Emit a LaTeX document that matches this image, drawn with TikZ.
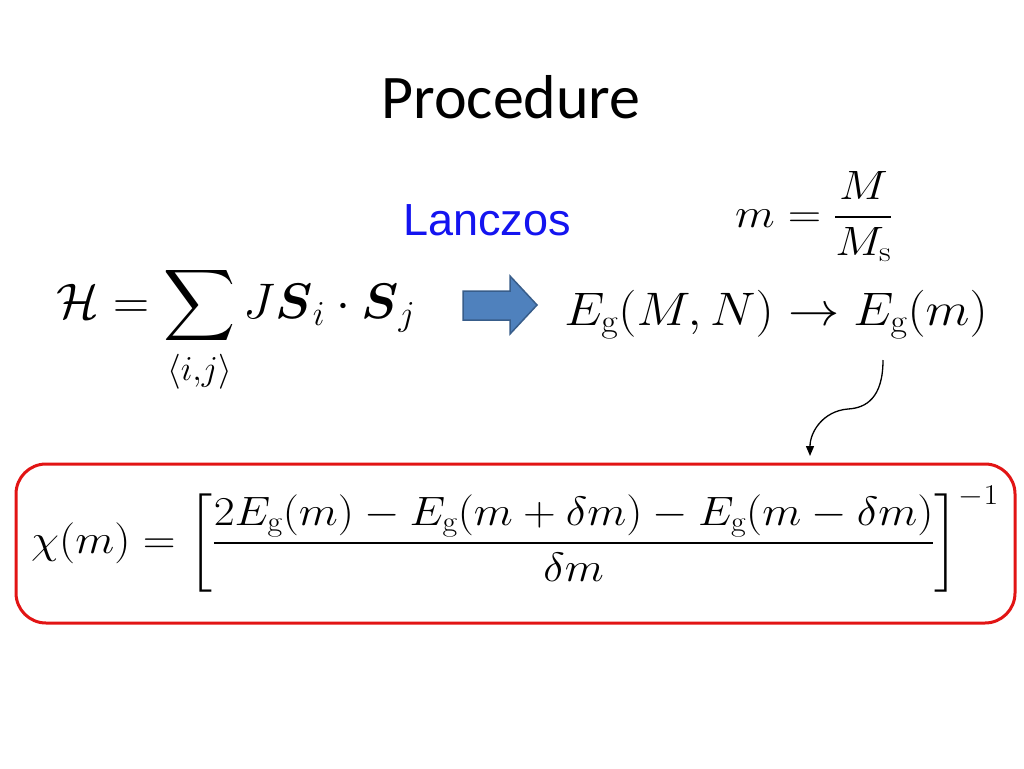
\RequirePackage{fix-cm}
\documentclass[tikz,border=0pt]{standalone}
\usepackage{amsmath}
\usepackage{fontspec}
\DeclareFontShape{OMX}{cmex}{m}{n}{<-> cmex10}{}
\newfontfamily\titlefont{Carlito}
\newfontfamily\arialfont{Liberation Sans}
\usetikzlibrary{arrows.meta}
\definecolor{boxred}{RGB}{226,20,20}
\definecolor{arrowfill}{RGB}{79,129,189}
\definecolor{arrowdraw}{RGB}{56,93,138}
\definecolor{lanczosblue}{RGB}{20,20,240}
\tikzset{
  titlestyle/.style={anchor=base, inner sep=0pt, font=\titlefont\fontsize{62}{70}\selectfont},
  labelstyle/.style={anchor=base, inner sep=0pt, text=lanczosblue, font=\arialfont\fontsize{45}{52}\selectfont},
  hammath/.style={anchor=base, inner sep=0pt, font=\fontsize{50}{60}\selectfont},
  bigmath/.style={anchor=base, inner sep=0pt, font=\fontsize{47}{56}\selectfont},
  midmath/.style={anchor=base, inner sep=0pt, font=\fontsize{41}{50}\selectfont},
  resultbox/.style={draw=boxred, line width=3pt, rounded corners=30pt},
  blockarrow/.style={fill=arrowfill, draw=arrowdraw, line width=1.5pt, line join=miter},
  curvearrow/.style={draw=black, line width=1.3pt, -{Triangle[length=10pt,width=8pt]}}
}
\begin{document}
\begin{tikzpicture}[x=1pt,y=-1pt]
\useasboundingbox (0,0) rectangle (1024,768);
\fill[white] (0,0) rectangle (1024,768);

\node[titlestyle] (title) at (511,118) {Procedure};
\node[labelstyle] (lanczos) at (487,235) {Lanczos};

\node[hammath] (ham) at (236,318) {$\displaystyle \mathcal{H}=\sum_{\langle i,j\rangle} J\boldsymbol{S}_i\cdot\boldsymbol{S}_j$};
\node[bigmath] (energy) at (776,325) {\scalebox{1.09}[1]{$E_{\mathrm{g}}(M,N)\to E_{\mathrm{g}}(m)$}};
\node[midmath] (mdef) at (814,227) {\scalebox{1.13}[1]{$\displaystyle m=\frac{M}{M_{\mathrm{s}}}$}};

\draw[blockarrow] (463,291) -- (510,291) -- (510,276) -- (537,305) -- (510,334) -- (510,320) -- (463,320) -- cycle;

\draw[resultbox] (16,464) rectangle (1015,623);
\node[midmath] (chi) at (515,553) {\scalebox{1.11}[1]{$\displaystyle \chi(m)=\left[\frac{2E_{\mathrm{g}}(m)-E_{\mathrm{g}}(m+\delta m)-E_{\mathrm{g}}(m-\delta m)}{\delta m}\right]^{-1}$}};

\coordinate (cs) at (883,360);
\coordinate (ce) at (810,456);
\draw[curvearrow] (cs) .. controls (883,398) and (866,408) .. (848,409) .. controls (823,411) and (810,432) .. (ce);
\end{tikzpicture}
\end{document}
